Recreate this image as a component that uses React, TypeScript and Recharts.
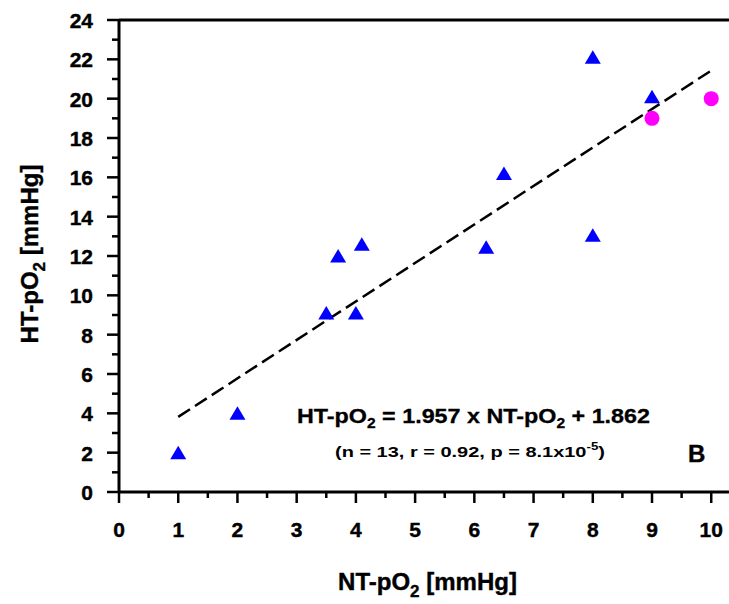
import React from 'react';
import { ScatterChart, Scatter, XAxis, YAxis, ReferenceLine } from 'recharts';

const triangleX = [1, 2, 3.5, 3.7, 4, 4.1, 6.2, 6.5, 8, 8, 9];
const triangleY = [2, 4, 9.1, 12, 9.1, 12.6, 12.45, 16.2, 22.1, 13.05, 20.1];
const circleX = [9, 10];
const circleY = [19, 20];
const fitX = [1, 10];
const fitY = [3.82, 21.43];
const xTicks = [0, 0.5, 1, 1.5, 2, 2.5, 3, 3.5, 4, 4.5, 5, 5.5, 6, 6.5, 7, 7.5, 8, 8.5, 9, 9.5, 10];
const yTicks = [0, 1, 2, 3, 4, 5, 6, 7, 8, 9, 10, 11, 12, 13, 14, 15, 16, 17, 18, 19, 20, 21, 22, 23, 24];

const triangles = triangleX.map((x, i) => ({ x, y: triangleY[i] }));
const circles = circleX.map((x, i) => ({ x, y: circleY[i] }));
const fitSegment = fitX.map((x, i) => ({ x, y: fitY[i] }));

const FONT = "'Liberation Sans', Arial, sans-serif";

const Triangle = (props: any) => {
  const { cx, cy } = props;
  return (
    <polygon
      points={`${cx},${cy - 7} ${cx - 8},${cy + 6.5} ${cx + 8},${cy + 6.5}`}
      fill="#0000FF"
    />
  );
};

const Circle = (props: any) => {
  const { cx, cy } = props;
  return <circle cx={cx} cy={cy} r={7.5} fill="#FF00FF" />;
};

const XTick = (props: any) => {
  const { x, y, payload } = props;
  const v = payload.value;
  const major = Number.isInteger(v);
  return (
    <g>
      <line x1={x} x2={x} y1={y} y2={y + (major ? 11 : 6)} stroke="#000" strokeWidth={2.5} />
      {major && (
        <text x={x} y={y + 45} textAnchor="middle" fontFamily={FONT} fontWeight="bold" fontSize={21} fill="#000" stroke="#000" strokeWidth={0.4}>
          {v}
        </text>
      )}
    </g>
  );
};

const YTick = (props: any) => {
  const { x, y, payload } = props;
  const v = payload.value;
  const major = v % 2 === 0;
  return (
    <g>
      <line x1={x - (major ? 12 : 7)} x2={x} y1={y} y2={y} stroke="#000" strokeWidth={2.5} />
      {major && (
        <text x={93} y={y + 8} textAnchor="end" fontFamily={FONT} fontWeight="bold" fontSize={21} fill="#000" stroke="#000" strokeWidth={0.4}>
          {v}
        </text>
      )}
    </g>
  );
};

export default function App() {
  return (
    <div style={{ position: 'absolute', left: 0, top: 0, width: 729, height: 604, background: '#fff' }}>
      <ScatterChart width={729} height={604} margin={{ top: 20, right: 0, bottom: 0, left: 0 }}>
        <XAxis
          type="number"
          dataKey="x"
          domain={[0, 10.3]}
          ticks={xTicks}
          interval={0}
          allowDataOverflow
          height={112}
          axisLine={{ stroke: '#000', strokeWidth: 3 }}
          tickLine={false}
          tickSize={0}
          tickMargin={0}
          tick={<XTick />}
        />
        <YAxis
          type="number"
          dataKey="y"
          domain={[0, 24]}
          ticks={yTicks}
          interval={0}
          width={119}
          axisLine={{ stroke: '#000', strokeWidth: 3 }}
          tickLine={false}
          tickSize={0}
          tickMargin={0}
          tick={<YTick />}
        />
        <ReferenceLine y={24} stroke="#000" strokeWidth={3} />
        <ReferenceLine
          segment={fitSegment}
          stroke="#000"
          strokeWidth={2.5}
          strokeDasharray="14 6"
        />
        <Scatter data={triangles} shape={<Triangle />} isAnimationActive={false} />
        <Scatter data={circles} shape={<Circle />} isAnimationActive={false} />
      </ScatterChart>
      <svg width={729} height={604} style={{ position: 'absolute', left: 0, top: 0, pointerEvents: 'none' }}>
        <text
          x={427.5}
          y={590}
          textAnchor="middle"
          fontFamily={FONT}
          fontWeight="bold"
          fontSize={24}
          fill="#000"
          stroke="#000"
          strokeWidth={0.4}
        >
          NT-pO<tspan fontSize={17} dy={7}>2</tspan>
          <tspan dy={-7}> [mmHg]</tspan>
        </text>
        <text
          x={38}
          y={254}
          textAnchor="middle"
          fontFamily={FONT}
          fontWeight="bold"
          fontSize={24}
          fill="#000"
          stroke="#000"
          strokeWidth={0.4}
          transform="rotate(-90, 38, 254)"
        >
          HT-pO<tspan fontSize={17} dy={7}>2</tspan>
          <tspan dy={-7}> [mmHg]</tspan>
        </text>
        <text
          x={297}
          y={423}
          fontFamily={FONT}
          fontWeight="bold"
          fontSize={21}
          fill="#000"
          stroke="#000"
          strokeWidth={0.3}
          textLength={353}
          lengthAdjust="spacingAndGlyphs"
        >
          HT-pO<tspan fontSize={14} dy={5}>2</tspan>
          <tspan dy={-5}> = 1.957 x NT-pO</tspan>
          <tspan fontSize={14} dy={5}>2</tspan>
          <tspan dy={-5}> + 1.862</tspan>
        </text>
        <text
          x={335}
          y={457}
          fontFamily={FONT}
          fontWeight="bold"
          fontSize={15}
          fill="#000"
          textLength={270}
          lengthAdjust="spacingAndGlyphs"
        >
          (n = 13,  r = 0.92, p = 8.1x10<tspan fontSize={10} dy={-7}>-5</tspan>
          <tspan dy={7}>)</tspan>
        </text>
        <text x={688} y={462} fontFamily={FONT} fontWeight="bold" fontSize={24} fill="#000" stroke="#000" strokeWidth={0.4}>
          B
        </text>
      </svg>
    </div>
  );
}
